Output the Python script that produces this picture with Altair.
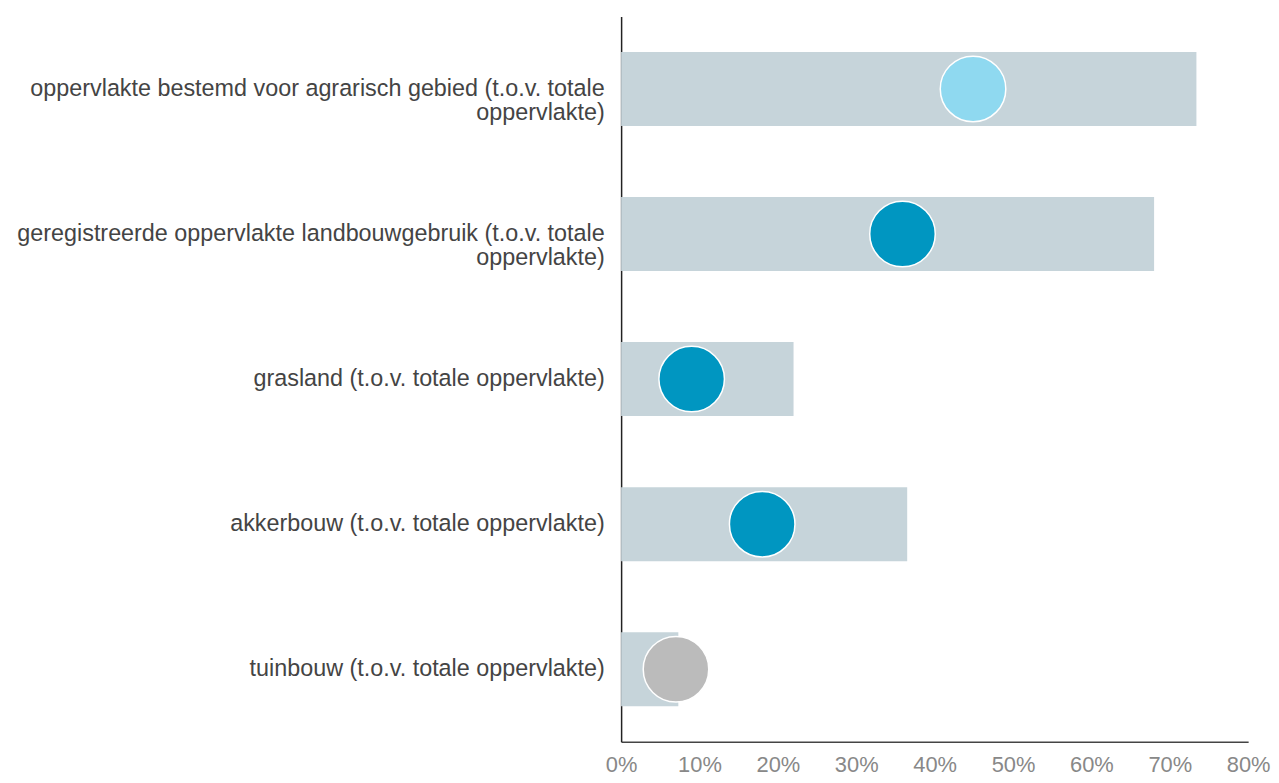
import altair as alt
import pandas as pd

categories = [
    "oppervlakte bestemd voor agrarisch gebied (t.o.v. totale oppervlakte)",
    "geregistreerde oppervlakte landbouwgebruik (t.o.v. totale oppervlakte)",
    "grasland (t.o.v. totale oppervlakte)",
    "akkerbouw (t.o.v. totale oppervlakte)",
    "tuinbouw (t.o.v. totale oppervlakte)",
]
bar_values = [73.4, 68.0, 22.0, 36.5, 7.3]
dot_values = [44.9, 35.9, 9.0, 18.0, 7.0]
dot_colors = ["#8fd9f0", "#0096c1", "#0096c1", "#0096c1", "#bbbbbb"]

df = pd.DataFrame({
    "cat": categories,
    "bar": bar_values,
    "dot": dot_values,
    "color": dot_colors,
})

label_expr = (
    "datum.label == '" + categories[0] + "' ? ['oppervlakte bestemd voor agrarisch gebied (t.o.v. totale', 'oppervlakte)'] : "
    "datum.label == '" + categories[1] + "' ? ['geregistreerde oppervlakte landbouwgebruik (t.o.v. totale', 'oppervlakte)'] : datum.label"
)

y_enc = alt.Y(
    "cat:N",
    sort=categories,
    title=None,
    scale=alt.Scale(paddingInner=0.49, paddingOuter=0.245),
    axis=alt.Axis(
        labelExpr=label_expr,
        labelFont="Liberation Sans",
        labelFontSize=23.5,
        labelColor="#444444",
        labelPadding=17,
        labelLimit=700,
        labelLineHeight=24,
        ticks=False,
        domainColor="#222222",
        domainWidth=1.5,
        grid=False,
    ),
)

x_scale = alt.Scale(domain=[0, 80], nice=False)
x_axis = alt.Axis(
    values=[0, 10, 20, 30, 40, 50, 60, 70, 80],
    labelExpr="datum.value + '%'",
    labelFont="Liberation Sans",
    labelFontSize=22,
    labelColor="#888888",
    labelPadding=13,
    ticks=False,
    grid=False,
    domainColor="#444444",
    domainWidth=1.5,
    labelFlush=False,
)

bars = alt.Chart(df).mark_bar(color="#c6d4da").encode(
    y=y_enc,
    x=alt.X("bar:Q", scale=x_scale, axis=x_axis, title=None),
)

dots = alt.Chart(df).mark_circle(opacity=1, size=4350, stroke="white", strokeWidth=1.5).encode(
    y=alt.Y("cat:N", sort=categories),
    x=alt.X("dot:Q", scale=x_scale),
    color=alt.Color("color:N", scale=None),
)

chart = (
    alt.layer(bars, dots)
    .properties(
        width=631,
        height=730,
        background="white",
        autosize=alt.AutoSizeParams(type="none"),
        padding={"left": 617, "top": 6, "right": 23, "bottom": 37},
    )
    .configure_view(stroke=None, strokeWidth=0)
)

chart.save("out.html", embed_options={"renderer": "svg", "actions": False})
